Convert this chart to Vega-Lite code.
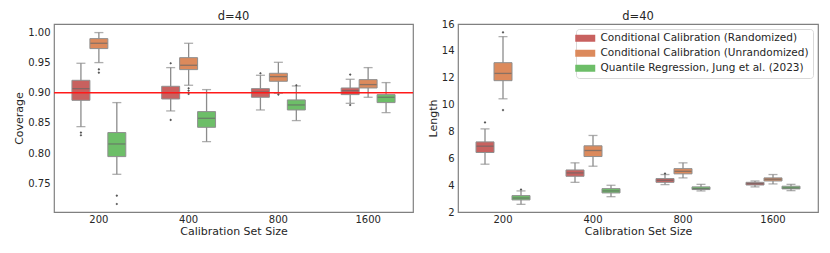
{
  "$schema": "https://vega.github.io/schema/vega-lite/v6.json",
  "autosize": {"type": "pad"},
  "padding": {"left": 13, "top": 9, "right": 12, "bottom": 12},
  "background": "white",
  "datasets": {
    "cov": [
      {"n": "200", "m": "Conditional Calibration (Randomized)", "low": 0.8438, "q1": 0.8874, "med": 0.9067, "q3": 0.9205, "high": 0.9487},
      {"n": "200", "m": "Conditional Calibration (Unrandomized)", "low": 0.9498, "q1": 0.973, "med": 0.9818, "q3": 0.9895, "high": 0.9995},
      {"n": "200", "m": "Quantile Regression, Jung et al. (2023)", "low": 0.7649, "q1": 0.7942, "med": 0.8151, "q3": 0.834, "high": 0.8836},
      {"n": "400", "m": "Conditional Calibration (Randomized)", "low": 0.8698, "q1": 0.8896, "med": 0.9001, "q3": 0.9106, "high": 0.9415},
      {"n": "400", "m": "Conditional Calibration (Unrandomized)", "low": 0.9123, "q1": 0.9382, "med": 0.9454, "q3": 0.958, "high": 0.9818},
      {"n": "400", "m": "Quantile Regression, Jung et al. (2023)", "low": 0.819, "q1": 0.8427, "med": 0.8576, "q3": 0.8687, "high": 0.9051},
      {"n": "800", "m": "Conditional Calibration (Randomized)", "low": 0.8714, "q1": 0.8924, "med": 0.9012, "q3": 0.9067, "high": 0.9288},
      {"n": "800", "m": "Conditional Calibration (Unrandomized)", "low": 0.899, "q1": 0.9189, "med": 0.9266, "q3": 0.9321, "high": 0.9503},
      {"n": "800", "m": "Quantile Regression, Jung et al. (2023)", "low": 0.8538, "q1": 0.8714, "med": 0.8797, "q3": 0.888, "high": 0.9112},
      {"n": "1600", "m": "Conditional Calibration (Randomized)", "low": 0.8824, "q1": 0.8968, "med": 0.9034, "q3": 0.9078, "high": 0.9222},
      {"n": "1600", "m": "Conditional Calibration (Unrandomized)", "low": 0.8924, "q1": 0.9078, "med": 0.9134, "q3": 0.9216, "high": 0.9415},
      {"n": "1600", "m": "Quantile Regression, Jung et al. (2023)", "low": 0.867, "q1": 0.8836, "med": 0.8924, "q3": 0.8968, "high": 0.9167}
    ],
    "covOut": [
      {"n": "200", "m": "Conditional Calibration (Randomized)", "v": 0.834},
      {"n": "200", "m": "Conditional Calibration (Randomized)", "v": 0.8295},
      {"n": "200", "m": "Conditional Calibration (Unrandomized)", "v": 0.9387},
      {"n": "200", "m": "Conditional Calibration (Unrandomized)", "v": 0.9332},
      {"n": "200", "m": "Quantile Regression, Jung et al. (2023)", "v": 0.7296},
      {"n": "200", "m": "Quantile Regression, Jung et al. (2023)", "v": 0.7158},
      {"n": "400", "m": "Conditional Calibration (Randomized)", "v": 0.9487},
      {"n": "400", "m": "Conditional Calibration (Randomized)", "v": 0.8549},
      {"n": "400", "m": "Conditional Calibration (Unrandomized)", "v": 0.9073},
      {"n": "400", "m": "Conditional Calibration (Unrandomized)", "v": 0.9034},
      {"n": "400", "m": "Conditional Calibration (Unrandomized)", "v": 0.898},
      {"n": "800", "m": "Conditional Calibration (Randomized)", "v": 0.9321},
      {"n": "800", "m": "Conditional Calibration (Unrandomized)", "v": 0.8968},
      {"n": "800", "m": "Quantile Regression, Jung et al. (2023)", "v": 0.9123},
      {"n": "1600", "m": "Conditional Calibration (Randomized)", "v": 0.9299},
      {"n": "1600", "m": "Conditional Calibration (Randomized)", "v": 0.8797}
    ],
    "len": [
      {"n": "200", "m": "Conditional Calibration (Randomized)", "low": 5.56, "q1": 6.43, "med": 6.9, "q3": 7.22, "high": 8.19},
      {"n": "200", "m": "Conditional Calibration (Unrandomized)", "low": 10.43, "q1": 11.78, "med": 12.32, "q3": 13.12, "high": 15.06},
      {"n": "200", "m": "Quantile Regression, Jung et al. (2023)", "low": 2.57, "q1": 2.9, "med": 3.04, "q3": 3.22, "high": 3.57},
      {"n": "400", "m": "Conditional Calibration (Randomized)", "low": 4.21, "q1": 4.66, "med": 4.91, "q3": 5.13, "high": 5.66},
      {"n": "400", "m": "Conditional Calibration (Unrandomized)", "low": 5.41, "q1": 6.13, "med": 6.58, "q3": 6.93, "high": 7.7},
      {"n": "400", "m": "Quantile Regression, Jung et al. (2023)", "low": 3.14, "q1": 3.42, "med": 3.57, "q3": 3.74, "high": 3.99},
      {"n": "800", "m": "Conditional Calibration (Randomized)", "low": 4.04, "q1": 4.21, "med": 4.36, "q3": 4.49, "high": 4.79},
      {"n": "800", "m": "Conditional Calibration (Unrandomized)", "low": 4.54, "q1": 4.84, "med": 5.03, "q3": 5.23, "high": 5.66},
      {"n": "800", "m": "Quantile Regression, Jung et al. (2023)", "low": 3.57, "q1": 3.67, "med": 3.74, "q3": 3.87, "high": 4.06},
      {"n": "1600", "m": "Conditional Calibration (Randomized)", "low": 3.87, "q1": 4.01, "med": 4.11, "q3": 4.21, "high": 4.31},
      {"n": "1600", "m": "Conditional Calibration (Unrandomized)", "low": 4.09, "q1": 4.31, "med": 4.44, "q3": 4.54, "high": 4.79},
      {"n": "1600", "m": "Quantile Regression, Jung et al. (2023)", "low": 3.59, "q1": 3.72, "med": 3.79, "q3": 3.92, "high": 4.06}
    ],
    "lenOut": [
      {"n": "200", "m": "Conditional Calibration (Randomized)", "v": 8.67},
      {"n": "200", "m": "Conditional Calibration (Unrandomized)", "v": 15.38},
      {"n": "200", "m": "Conditional Calibration (Unrandomized)", "v": 9.59},
      {"n": "200", "m": "Quantile Regression, Jung et al. (2023)", "v": 3.67},
      {"n": "800", "m": "Conditional Calibration (Randomized)", "v": 4.86}
    ],
    "ref": [{"v": 0.9}]
  },
  "hconcat": [
    {
      "width": 359,
      "height": 188,
      "title": {"text": "d=40", "offset": 2},
      "encoding": {
        "x": {"field": "n", "type": "nominal", "sort": ["200", "400", "800", "1600"], "scale": {"paddingInner": 0, "paddingOuter": 0}, "axis": {"title": "Calibration Set Size", "labelAngle": 0}},
        "xOffset": {"field": "m", "type": "nominal", "scale": {"paddingInner": 0, "paddingOuter": 1.03}}
      },
      "layer": [
        {
          "data": {"name": "cov"},
          "mark": {"type": "rule", "color": "#8c8c8c", "strokeWidth": 1.3},
          "encoding": {
            "y": {"field": "low", "type": "quantitative", "scale": {"domain": [0.7025, 1.0137], "nice": false, "zero": false}, "axis": {"title": "Coverage", "values": [0.75, 0.8, 0.85, 0.9, 0.95, 1.0], "tickCount": 12, "format": ".2f", "labelOverlap": false}},
            "y2": {"field": "high"}
          }
        },
        {
          "data": {"name": "cov"},
          "mark": {"type": "bar", "stroke": "#8f8f8f", "strokeWidth": 1},
          "encoding": {
            "y": {"field": "q1", "type": "quantitative"},
            "y2": {"field": "q3"},
            "color": {"field": "m", "type": "nominal", "scale": {"domain": ["Conditional Calibration (Randomized)", "Conditional Calibration (Unrandomized)", "Quantile Regression, Jung et al. (2023)"], "range": ["#c8615f", "#dc8a5c", "#6dbe68"]}, "legend": null}
          }
        },
        {
          "data": {"name": "cov"},
          "mark": {"type": "tick", "color": "#666666", "size": 17, "thickness": 1.3},
          "encoding": {"y": {"field": "med", "type": "quantitative"}}
        },
        {
          "data": {"name": "cov"},
          "mark": {"type": "tick", "color": "#8c8c8c", "size": 9, "thickness": 1.3},
          "encoding": {"y": {"field": "low", "type": "quantitative"}}
        },
        {
          "data": {"name": "cov"},
          "mark": {"type": "tick", "color": "#8c8c8c", "size": 9, "thickness": 1.3},
          "encoding": {"y": {"field": "high", "type": "quantitative"}}
        },
        {
          "data": {"name": "covOut"},
          "mark": {"type": "point", "shape": "diamond", "filled": true, "color": "#555555", "size": 7, "opacity": 1},
          "encoding": {"y": {"field": "v", "type": "quantitative"}}
        },
        {
          "data": {"name": "ref"},
          "mark": {"type": "rule", "stroke": "#ff1a1a", "strokeWidth": 1.6, "opacity": 1},
          "encoding": {"y": {"field": "v", "type": "quantitative"}, "x": {"value": 0}, "x2": {"value": 359}, "xOffset": null}
        }
      ]
    },
    {
      "width": 360,
      "height": 188,
      "title": {"text": "d=40", "offset": -3},
      "encoding": {
        "x": {"field": "n", "type": "nominal", "sort": ["200", "400", "800", "1600"], "scale": {"paddingInner": 0, "paddingOuter": 0}, "axis": {"title": "Calibration Set Size", "labelAngle": 0}},
        "xOffset": {"field": "m", "type": "nominal", "scale": {"paddingInner": 0, "paddingOuter": 1.03}}
      },
      "layer": [
        {
          "data": {"name": "len"},
          "mark": {"type": "rule", "color": "#8c8c8c", "strokeWidth": 1.3},
          "encoding": {
            "y": {"field": "low", "type": "quantitative", "scale": {"domain": [2, 16], "nice": false, "zero": false}, "axis": {"title": "Length", "values": [2, 4, 6, 8, 10, 12, 14, 16], "tickCount": 12, "labelOverlap": false}},
            "y2": {"field": "high"}
          }
        },
        {
          "data": {"name": "len"},
          "mark": {"type": "bar", "stroke": "#8f8f8f", "strokeWidth": 1},
          "encoding": {
            "y": {"field": "q1", "type": "quantitative"},
            "y2": {"field": "q3"},
            "color": {"field": "m", "type": "nominal", "scale": {"domain": ["Conditional Calibration (Randomized)", "Conditional Calibration (Unrandomized)", "Quantile Regression, Jung et al. (2023)"], "range": ["#c8615f", "#dc8a5c", "#6dbe68"]},
              "legend": {"title": null, "orient": "top-right", "offset": 5, "fillColor": "white", "strokeColor": "#d9d9d9", "cornerRadius": 3, "padding": 4, "labelFontSize": 10.5, "labelColor": "#262626", "symbolType": "M-2,-0.7L2,-0.7L2,0.7L-2,0.7Z", "symbolSize": 100, "symbolStrokeWidth": 0, "symbolOpacity": 1, "labelOffset": 10, "rowPadding": 4, "labelLimit": 300}}
          }
        },
        {
          "data": {"name": "len"},
          "mark": {"type": "tick", "color": "#666666", "size": 17, "thickness": 1.3},
          "encoding": {"y": {"field": "med", "type": "quantitative"}}
        },
        {
          "data": {"name": "len"},
          "mark": {"type": "tick", "color": "#8c8c8c", "size": 9, "thickness": 1.3},
          "encoding": {"y": {"field": "low", "type": "quantitative"}}
        },
        {
          "data": {"name": "len"},
          "mark": {"type": "tick", "color": "#8c8c8c", "size": 9, "thickness": 1.3},
          "encoding": {"y": {"field": "high", "type": "quantitative"}}
        },
        {
          "data": {"name": "lenOut"},
          "mark": {"type": "point", "shape": "diamond", "filled": true, "color": "#555555", "size": 7, "opacity": 1},
          "encoding": {"y": {"field": "v", "type": "quantitative"}}
        }
      ]
    }
  ],
  "spacing": 45,
  "bounds": "flush",
  "resolve": {"scale": {"y": "independent", "x": "independent", "xOffset": "independent"}, "legend": {"color": "independent"}},
  "config": {
    "font": "DejaVu Sans",
    "view": {"stroke": "#808080", "strokeWidth": 1.2},
    "axis": {"domain": false, "ticks": false, "grid": false, "labelFontSize": 10, "titleFontSize": 11, "labelColor": "#262626", "titleColor": "#262626", "labelPadding": 4, "titleFontWeight": "normal", "labelOverlap": false},
    "axisX": {"labelPadding": 2, "titlePadding": 1},
    "axisY": {"titlePadding": 3},
    "title": {"fontSize": 11.5, "fontWeight": "normal", "color": "#262626", "font": "DejaVu Sans"}
  }
}
